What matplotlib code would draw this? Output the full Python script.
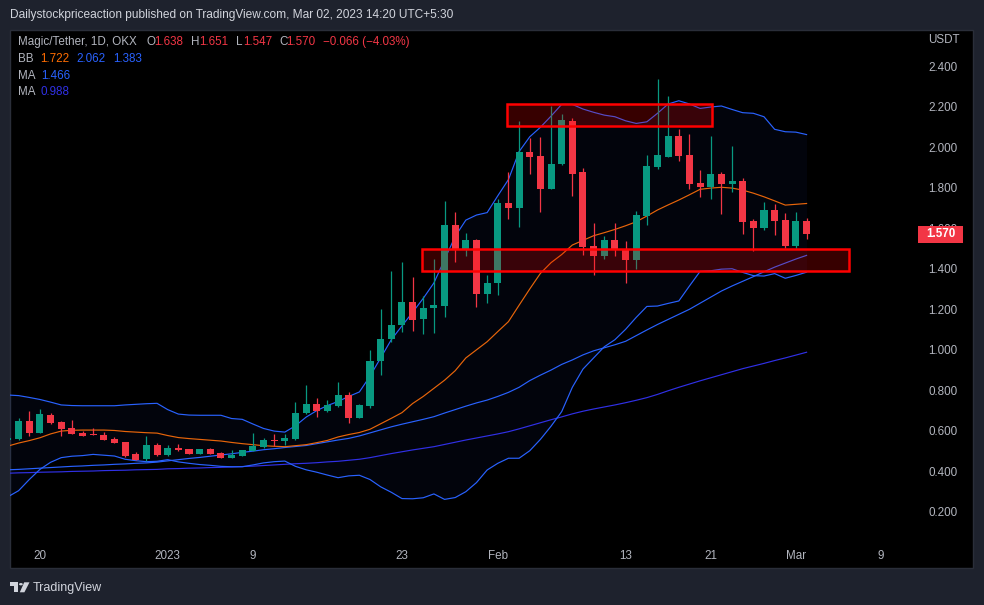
import numpy as np
import pandas as pd
import matplotlib
matplotlib.use("Agg")
import matplotlib.pyplot as plt
import matplotlib.dates as mdates
import matplotlib.transforms as mtransforms
from matplotlib.patches import Rectangle, Polygon, Circle

plt.rcParams['font.family'] = ['Liberation Sans', 'DejaVu Sans']

# MAGIC/USDT daily, OKX, 17 Dec 2022 - 2 Mar 2023
dates = pd.date_range("2022-12-17", "2023-03-02", freq="D")

opens = [0.555, 0.560, 0.649, 0.591, 0.678, 0.644, 0.614, 0.591, 0.582, 0.580,
         0.558, 0.545, 0.486, 0.461, 0.530, 0.483, 0.515, 0.510, 0.487, 0.510,
         0.491, 0.468, 0.478, 0.501, 0.520, 0.555, 0.552, 0.560, 0.688, 0.733,
         0.700, 0.723, 0.777, 0.665, 0.723, 0.945, 1.053, 1.122, 1.236, 1.154,
         1.208, 1.216, 1.616, 1.497, 1.542, 1.277, 1.329, 1.723, 1.701, 1.976,
         1.956, 1.795, 1.917, 2.129, 1.877, 1.512, 1.464, 1.542, 1.497, 1.445,
         1.662, 1.903, 1.953, 2.055, 1.961, 1.823, 1.805, 1.867, 1.819, 1.833,
         1.635, 1.603, 1.690, 1.640, 1.513, 1.638]
highs = [0.575, 0.663, 0.698, 0.708, 0.688, 0.649, 0.654, 0.600, 0.616, 0.595,
         0.569, 0.545, 0.497, 0.575, 0.541, 0.528, 0.535, 0.512, 0.512, 0.515,
         0.495, 0.506, 0.508, 0.589, 0.565, 0.584, 0.584, 0.742, 0.826, 0.762,
         0.752, 0.843, 0.793, 0.735, 0.999, 1.201, 1.390, 1.433, 1.359, 1.265,
         1.448, 1.734, 1.678, 1.576, 1.547, 1.369, 1.744, 1.876, 2.129, 2.046,
         2.050, 2.203, 2.163, 2.142, 1.895, 1.625, 1.562, 1.625, 1.537, 1.685,
         1.961, 2.336, 2.252, 2.089, 2.065, 1.887, 2.055, 1.877, 2.005, 1.848,
         1.645, 1.729, 1.719, 1.675, 1.680, 1.651]
lows = [0.550, 0.555, 0.576, 0.588, 0.635, 0.576, 0.586, 0.574, 0.578, 0.556,
        0.540, 0.471, 0.458, 0.450, 0.478, 0.478, 0.500, 0.487, 0.485, 0.485,
        0.468, 0.466, 0.476, 0.499, 0.518, 0.525, 0.532, 0.555, 0.684, 0.668,
        0.695, 0.718, 0.640, 0.665, 0.713, 0.876, 1.040, 1.089, 1.094, 1.078,
        1.085, 1.160, 1.435, 1.464, 1.213, 1.232, 1.272, 1.647, 1.607, 1.869,
        1.680, 1.795, 1.913, 1.761, 1.466, 1.371, 1.449, 1.464, 1.331, 1.398,
        1.616, 1.890, 1.950, 1.933, 1.795, 1.755, 1.746, 1.672, 1.780, 1.573,
        1.489, 1.590, 1.568, 1.500, 1.500, 1.547]
closes = [0.565, 0.649, 0.591, 0.682, 0.640, 0.611, 0.586, 0.576, 0.580, 0.556,
          0.542, 0.478, 0.458, 0.530, 0.481, 0.514, 0.506, 0.487, 0.510, 0.487,
          0.468, 0.483, 0.506, 0.527, 0.555, 0.551, 0.565, 0.688, 0.733, 0.700,
          0.726, 0.777, 0.665, 0.728, 0.945, 1.053, 1.122, 1.236, 1.149, 1.206,
          1.219, 1.616, 1.497, 1.542, 1.277, 1.329, 1.724, 1.701, 1.976, 1.953,
          1.795, 1.917, 2.134, 1.869, 1.509, 1.464, 1.542, 1.492, 1.445, 1.665,
          1.907, 1.961, 2.055, 1.958, 1.819, 1.805, 1.867, 1.819, 1.833, 1.632,
          1.603, 1.690, 1.637, 1.513, 1.638, 1.570]

# Bollinger bands (20, 2) as drawn on the chart
bb_upper = [0.777, 0.774, 0.765, 0.755, 0.742, 0.728, 0.725, 0.724, 0.724, 0.724,
            0.724, 0.728, 0.731, 0.734, 0.736, 0.705, 0.683, 0.678, 0.677, 0.677,
            0.677, 0.661, 0.657, 0.634, 0.612, 0.599, 0.594, 0.625, 0.668, 0.700,
            0.725, 0.745, 0.770, 0.792, 0.870, 0.960, 1.050, 1.118, 1.185, 1.254,
            1.330, 1.445, 1.560, 1.640, 1.665, 1.677, 1.760, 1.840, 1.978, 2.051,
            2.098, 2.153, 2.211, 2.211, 2.188, 2.172, 2.158, 2.150, 2.130, 2.117,
            2.125, 2.167, 2.213, 2.229, 2.213, 2.191, 2.198, 2.203, 2.186, 2.170,
            2.167, 2.150, 2.088, 2.076, 2.074, 2.062]
bb_basis = [0.525, 0.540, 0.552, 0.566, 0.585, 0.599, 0.603, 0.604, 0.604, 0.604,
            0.602, 0.597, 0.594, 0.591, 0.589, 0.577, 0.567, 0.562, 0.558, 0.554,
            0.550, 0.543, 0.537, 0.532, 0.527, 0.524, 0.522, 0.527, 0.532, 0.542,
            0.553, 0.570, 0.582, 0.592, 0.608, 0.635, 0.662, 0.690, 0.735, 0.770,
            0.810, 0.850, 0.897, 0.960, 1.000, 1.040, 1.090, 1.139, 1.220, 1.300,
            1.377, 1.430, 1.470, 1.517, 1.540, 1.563, 1.578, 1.594, 1.612, 1.632,
            1.660, 1.690, 1.715, 1.739, 1.765, 1.792, 1.798, 1.802, 1.798, 1.788,
            1.773, 1.755, 1.735, 1.714, 1.718, 1.722]
bb_lower = [0.275, 0.305, 0.360, 0.410, 0.445, 0.468, 0.475, 0.478, 0.484, 0.480,
            0.476, 0.460, 0.453, 0.448, 0.450, 0.458, 0.447, 0.440, 0.434, 0.430,
            0.425, 0.423, 0.423, 0.432, 0.442, 0.448, 0.451, 0.425, 0.408, 0.396,
            0.382, 0.369, 0.378, 0.381, 0.360, 0.324, 0.297, 0.266, 0.265, 0.270,
            0.289, 0.262, 0.271, 0.300, 0.345, 0.407, 0.440, 0.465, 0.465, 0.502,
            0.558, 0.623, 0.695, 0.815, 0.905, 0.960, 1.015, 1.050, 1.101, 1.160,
            1.214, 1.216, 1.229, 1.241, 1.315, 1.387, 1.390, 1.398, 1.400, 1.382,
            1.366, 1.364, 1.376, 1.353, 1.367, 1.383]

# two moving averages
ma_fast = [0.408, 0.410, 0.413, 0.416, 0.419, 0.422, 0.425, 0.427, 0.430, 0.432,
           0.435, 0.437, 0.440, 0.442, 0.446, 0.452, 0.458, 0.464, 0.469, 0.475,
           0.481, 0.487, 0.494, 0.500, 0.507, 0.512, 0.518, 0.523, 0.528, 0.537,
           0.546, 0.555, 0.563, 0.575, 0.590, 0.605, 0.620, 0.633, 0.645, 0.657,
           0.670, 0.688, 0.705, 0.722, 0.738, 0.752, 0.770, 0.790, 0.815, 0.848,
           0.875, 0.900, 0.928, 0.950, 0.975, 0.995, 1.010, 1.025, 1.042, 1.070,
           1.098, 1.125, 1.150, 1.175, 1.200, 1.230, 1.260, 1.290, 1.315, 1.338,
           1.361, 1.385, 1.408, 1.428, 1.448, 1.466]
ma_slow = [0.391, 0.393, 0.394, 0.396, 0.397, 0.398, 0.400, 0.401, 0.402, 0.404,
           0.405, 0.406, 0.408, 0.409, 0.410, 0.413, 0.414, 0.416, 0.417, 0.419,
           0.420, 0.422, 0.424, 0.426, 0.429, 0.432, 0.435, 0.438, 0.440, 0.443,
           0.447, 0.450, 0.455, 0.460, 0.468, 0.478, 0.488, 0.497, 0.506, 0.514,
           0.522, 0.533, 0.544, 0.555, 0.565, 0.575, 0.585, 0.596, 0.610, 0.625,
           0.640, 0.655, 0.669, 0.684, 0.697, 0.708, 0.718, 0.728, 0.739, 0.751,
           0.764, 0.780, 0.798, 0.815, 0.831, 0.847, 0.862, 0.877, 0.892, 0.907,
           0.920, 0.933, 0.947, 0.960, 0.974, 0.988]

price_ticks = [0.2, 0.4, 0.6, 0.8, 1.0, 1.2, 1.4, 1.6, 1.8, 2.0, 2.2, 2.4]
time_ticks = ["2022-12-20", "2023-01-01", "2023-01-09", "2023-01-23", "2023-02-01",
              "2023-02-13", "2023-02-21", "2023-03-01", "2023-03-09"]
time_labels = ["20", "2023", "9", "23", "Feb", "13", "21", "Mar", "9"]

# drawn zones: (start day offset, end day offset, low, high)
zones = [(46.9, 66.1, 2.104, 2.211), (38.9, 79.0, 1.390, 1.497)]

GREEN = "#089981"
RED = "#f23645"
BLUE = "#2962ff"
ORANGE = "#ff6d00"
INDIGO = "#3030e6"
TXT = "#b2b5be"
W, H = 984, 605


def fp(x, y):
    return x / W, 1 - y / H


fig = plt.figure(figsize=(W / 100, H / 100), dpi=100, facecolor="#1e222d")
fig.add_artist(Rectangle(fp(10, 568), 963 / W, 538 / H, transform=fig.transFigure,
                         facecolor="black", edgecolor="#2a2e39", lw=1, zorder=-1))

ax = fig.add_axes([10 / W, 65 / H, 902 / W, 510 / H])
ax.set_facecolor("none")
for s in ax.spines.values():
    s.set_visible(False)

o = np.array(opens); h = np.array(highs); l = np.array(lows); c = np.array(closes)
x = mdates.date2num(dates)
base = x[0]
cols = np.where(c >= o, GREEN, RED)

ax.fill_between(x, bb_lower, bb_upper, color=(0.16, 0.38, 1.0, 0.05), lw=0, zorder=1)
ax.plot(x, ma_slow, color=INDIGO, lw=0.85, zorder=2)
ax.plot(x, ma_fast, color=BLUE, lw=0.85, zorder=2)
ax.plot(x, bb_lower, color=BLUE, lw=0.85, zorder=2)
ax.plot(x, bb_upper, color=BLUE, lw=0.85, zorder=2)
ax.plot(x, bb_basis, color="#e8650a", lw=0.85, zorder=2)

ax.vlines(x, l, h, colors=cols, lw=0.9, zorder=3)
ax.bar(x, np.maximum(np.abs(c - o), 0.005), bottom=np.minimum(o, c), width=0.66,
       color=cols, lw=0, zorder=3)

for d0, d1, lo, hi in zones:
    ax.add_patch(Rectangle((base + d0, lo), d1 - d0, hi - lo, facecolor=(1, 0, 0, 0.22),
                           edgecolor=(1, 0, 0, 1), lw=1.8, zorder=4))

ax.set_xlim(base + 0.19, base + 84.9)
ax.set_ylim(0.0616, 2.578)

ax.yaxis.tick_right()
ax.set_yticks(price_ticks)
ax.set_yticklabels([f"{v:.3f}" for v in price_ticks])
ax.tick_params(axis="y", length=0, pad=12, labelcolor=TXT, labelsize=8.35)
ax.set_xticks(mdates.date2num(pd.to_datetime(time_ticks)))
ax.set_xticklabels(time_labels)
ax.tick_params(axis="x", length=0, pad=7.5, labelcolor=TXT, labelsize=8.35)

# last price marker on the scale
tr = mtransforms.blended_transform_factory(ax.transAxes, ax.transData)
ax.add_patch(Rectangle((1.0067, closes[-1] - 0.042), 0.0499, 0.084, transform=tr,
                       facecolor=RED, lw=0, clip_on=False, zorder=10))
ax.text(1.0316, closes[-1], f"{closes[-1]:.3f}", transform=tr, color="white",
        fontsize=8.35, fontweight="bold", ha="center", va="center", clip_on=False, zorder=11)

fig.text(*fp(928, 40), "USDT", color=TXT, fontsize=8.35, ha="left", va="center")

# header
fig.text(*fp(10, 15), "Dailystockpriceaction published on TradingView.com, Mar 02, 2023 14:20 UTC+5:30",
         color="#d1d4dc", fontsize=8.6, ha="left", va="center")

# legend rows
rows = [
    (42.3, [(18.3, "Magic/Tether, 1D, OKX", TXT), (146.7, "O", TXT), (154.3, "1.638", RED),
            (191, "H", TXT), (199.3, "1.651", RED), (235.7, "L", TXT), (242.7, "1.547", RED),
            (279.3, "C", TXT), (286, "1.570", RED), (323.3, "\u22120.066 (\u22124.03%)", RED)]),
    (59.3, [(18.3, "BB", TXT), (40, "1.722", ORANGE), (76, "2.062", BLUE), (113.3, "1.383", BLUE)]),
    (76, [(18.3, "MA", TXT), (40.7, "1.466", BLUE)]),
    (92.3, [(18.3, "MA", TXT), (40.7, "0.988", INDIGO)]),
]
for yy, parts in rows:
    for xx, s, col in parts:
        fig.text(*fp(xx, yy), s, color=col, fontsize=8.35, ha="left", va="center")

# TradingView logo
logo = "#d1d4dc"
fig.add_artist(Polygon([fp(10, 582.3), fp(18.3, 582.3), fp(18.3, 592.3), fp(13.6, 592.3),
                        fp(13.6, 585.9), fp(10, 585.9)], closed=True, transform=fig.transFigure,
                       facecolor=logo, lw=0))
fig.add_artist(Circle(fp(20.9, 584.2), 1.9 / W, transform=fig.transFigure, facecolor=logo, lw=0))
fig.add_artist(Polygon([fp(24.2, 582.3), fp(29.5, 582.3), fp(24.4, 592.3), fp(19.8, 592.3)],
                       closed=True, transform=fig.transFigure, facecolor=logo, lw=0))
fig.text(*fp(33, 587.5), "TradingView", color=logo, fontsize=9, ha="left", va="center")

fig.savefig("out.png", dpi=100, facecolor=fig.get_facecolor())
